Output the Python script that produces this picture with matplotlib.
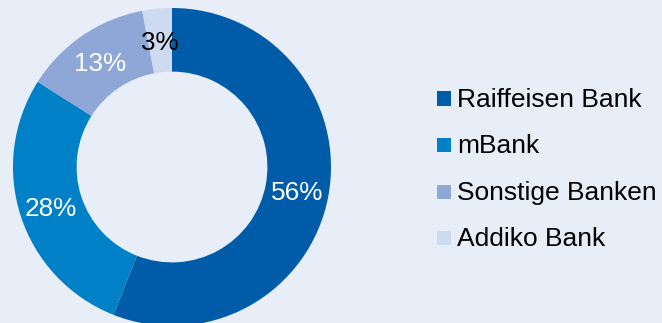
import matplotlib
matplotlib.use("Agg")
import matplotlib.pyplot as plt
from matplotlib.patches import Rectangle
import numpy as np

labels = ["Raiffeisen Bank", "mBank", "Sonstige Banken", "Addiko Bank"]
values = [56, 28, 13, 3]
pct_labels = ["56%", "28%", "13%", "3%"]
colors = ["#005CA9", "#0080C6", "#8EA7D7", "#CDDAF0"]
label_colors = ["white", "white", "white", "black"]

BG = "#E8EEF7"
W, H = 662, 323
fig = plt.figure(figsize=(W / 100, H / 100), dpi=100, facecolor=BG)
plt.rcParams['font.family'] = ['Liberation Sans', 'DejaVu Sans']

cx, cy, R = 172, 167, 159
ax = fig.add_axes([(cx - R) / W, (H - cy - R) / H, 2 * R / W, 2 * R / H])
ax.set_facecolor(BG)
wedges, _ = ax.pie(values, colors=colors, startangle=90, counterclock=False,
                   radius=1.0, wedgeprops=dict(width=0.40, linewidth=0))
ax.set_xlim(-1, 1)
ax.set_ylim(-1, 1)
ax.set_aspect('equal')
ax.axis('off')

# percentage labels at mid-ring
mid_r = 0.80
start = 90.0
total = sum(values)
for v, t, c in zip(values, pct_labels, label_colors):
    ang = start - 360.0 * v / total / 2
    x = mid_r * np.cos(np.radians(ang))
    y = mid_r * np.sin(np.radians(ang))
    ax.text(x, y, t, ha='center', va='center_baseline', color=c, fontsize=18.8)
    start -= 360.0 * v / total

# legend
baselines = [107, 153, 200, 246]
sq = 14
for lab, col, b in zip(labels, colors, baselines):
    ymid = b - 8.5
    fig.add_artist(Rectangle((437 / W, (H - ymid - sq / 2) / H), sq / W, sq / H,
                             transform=fig.transFigure, facecolor=col, edgecolor='none'))
    fig.text(457 / W, (H - b) / H, lab, ha='left', va='baseline', fontsize=19, color='black')

fig.savefig("out.png", dpi=100, facecolor=BG)
